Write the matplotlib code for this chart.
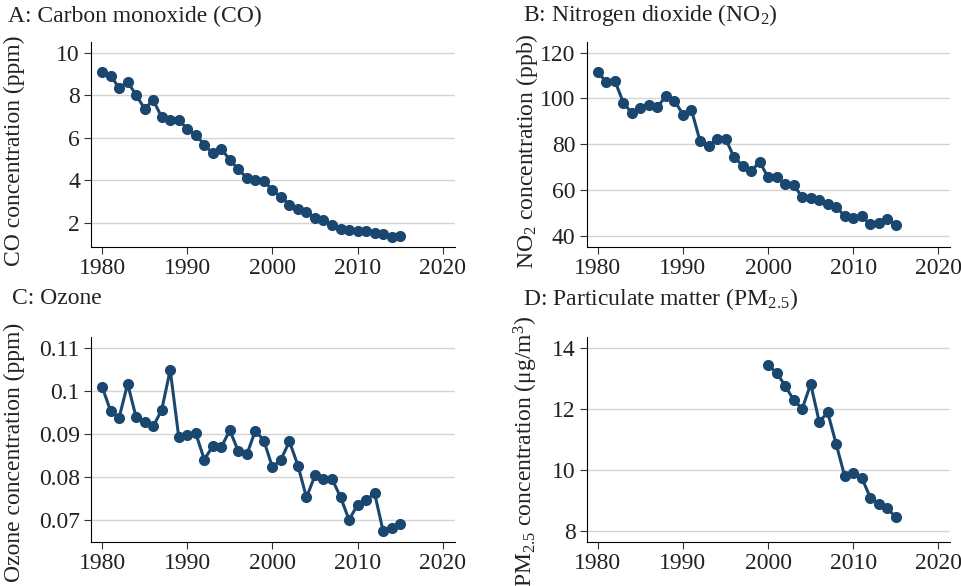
import numpy as np
import matplotlib
matplotlib.use('Agg')
import matplotlib.pyplot as plt

plt.rcParams['font.family'] = ['Liberation Serif', 'DejaVu Serif']
plt.rcParams['mathtext.fontset'] = 'custom'
plt.rcParams['mathtext.rm'] = 'Liberation Serif'
plt.rcParams['mathtext.it'] = 'Liberation Serif:italic'

years = list(range(1980, 2016))
co = [9.08, 8.92, 8.34, 8.64, 8.00, 7.37, 7.76, 6.98, 6.85, 6.85,
      6.42, 6.15, 5.67, 5.27, 5.49, 4.96, 4.52, 4.12, 4.02, 3.99,
      3.54, 3.24, 2.86, 2.68, 2.52, 2.24, 2.14, 1.91, 1.71, 1.67,
      1.61, 1.61, 1.53, 1.47, 1.36, 1.39]
no2 = [111.4, 107.2, 107.7, 98.2, 93.6, 95.8, 97.3, 96.3, 101.0, 99.1,
       93.0, 95.0, 81.5, 79.3, 82.5, 82.5, 74.4, 70.8, 68.2, 72.5,
       65.6, 65.8, 62.8, 62.4, 57.0, 56.6, 55.7, 54.1, 52.9, 48.7,
       48.1, 48.7, 45.2, 45.7, 47.7, 45.1]
ozone = [0.1009, 0.0953, 0.0937, 0.1016, 0.0938, 0.0928, 0.0917, 0.0955, 0.1048, 0.0893,
         0.0896, 0.0901, 0.0840, 0.0871, 0.0869, 0.0908, 0.0859, 0.0852, 0.0907, 0.0884,
         0.0822, 0.0840, 0.0882, 0.0826, 0.0752, 0.0803, 0.0795, 0.0795, 0.0753, 0.0700,
         0.0735, 0.0746, 0.0762, 0.0674, 0.0681, 0.0690]
pm_years = list(range(2000, 2016))
pm25 = [13.42, 13.18, 12.75, 12.29, 12.00, 12.81, 11.58, 11.88, 10.84, 9.79,
        9.89, 9.74, 9.10, 8.89, 8.75, 8.46]

xticks = [1980, 1990, 2000, 2010, 2020]
col = '#1a476f'
txt = '#222222'
W, H = 962, 586

fig = plt.figure(figsize=(9.62, 5.86), dpi=100)

panels = [
    # rect, x, y, title, title pos (px), ylabel, label coords, ylim, yticks, ticklabels
    ([0.0946, 0.578, 0.378, 0.350], years, co, 'A: Carbon monoxide (CO)', (8, 16),
     'CO concentration (ppm)', (-0.181, 0.47), (0.86, 10.49), [2, 4, 6, 8, 10], None),
    ([0.6099, 0.578, 0.378, 0.350], years, no2, 'B: Nitrogen dioxide (NO$_2$)', (523, 15),
     'NO$_2$ concentration (ppb)', (-0.1285, 0.47), (35.2, 124.5), [40, 60, 80, 100, 120], None),
    ([0.0946, 0.0746, 0.378, 0.350], years, ozone, 'C: Ozone', (12, 299),
     'Ozone concentration (ppm)', (-0.181, 0.44), (0.0648, 0.1124), [0.07, 0.08, 0.09, 0.1, 0.11],
     ['0.07', '0.08', '0.09', '0.1', '0.11']),
    ([0.6099, 0.0746, 0.378, 0.350], pm_years, pm25, 'D: Particulate matter (PM$_{2.5}$)', (523, 299),
     'PM$_{2.5}$ concentration (μg/m$^3$)', (-0.1285, 0.445), (7.64, 14.34), [8, 10, 12, 14], None),
]

for rect, x, y, title, tpos, ylab, lpos, ylim, yt, ytl in panels:
    ax = fig.add_axes(rect)
    ax.plot(x, y, '-o', color=col, lw=2.2, ms=7, zorder=3)
    ax.set_xlim(1978.7, 2021.4)
    ax.set_ylim(*ylim)
    ax.set_xticks(xticks)
    ax.set_yticks(yt)
    if ytl:
        ax.set_yticklabels(ytl)
    ax.yaxis.grid(True, color='#d4d4d4', lw=1.0)
    ax.set_axisbelow(True)
    for s in ['top', 'right']:
        ax.spines[s].set_visible(False)
    ax.spines['left'].set_linewidth(0.8)
    ax.spines['bottom'].set_linewidth(0.8)
    ax.tick_params(labelsize=17, length=5, width=0.8, color='#333333', labelcolor=txt, pad=3)
    ax.set_ylabel(ylab, fontsize=17, color=txt)
    ax.yaxis.set_label_coords(*lpos)
    fig.text(tpos[0] / W, 1 - tpos[1] / H, title, fontsize=17, color=txt,
             ha='left', va='center')

fig.savefig('out.png', dpi=100)
